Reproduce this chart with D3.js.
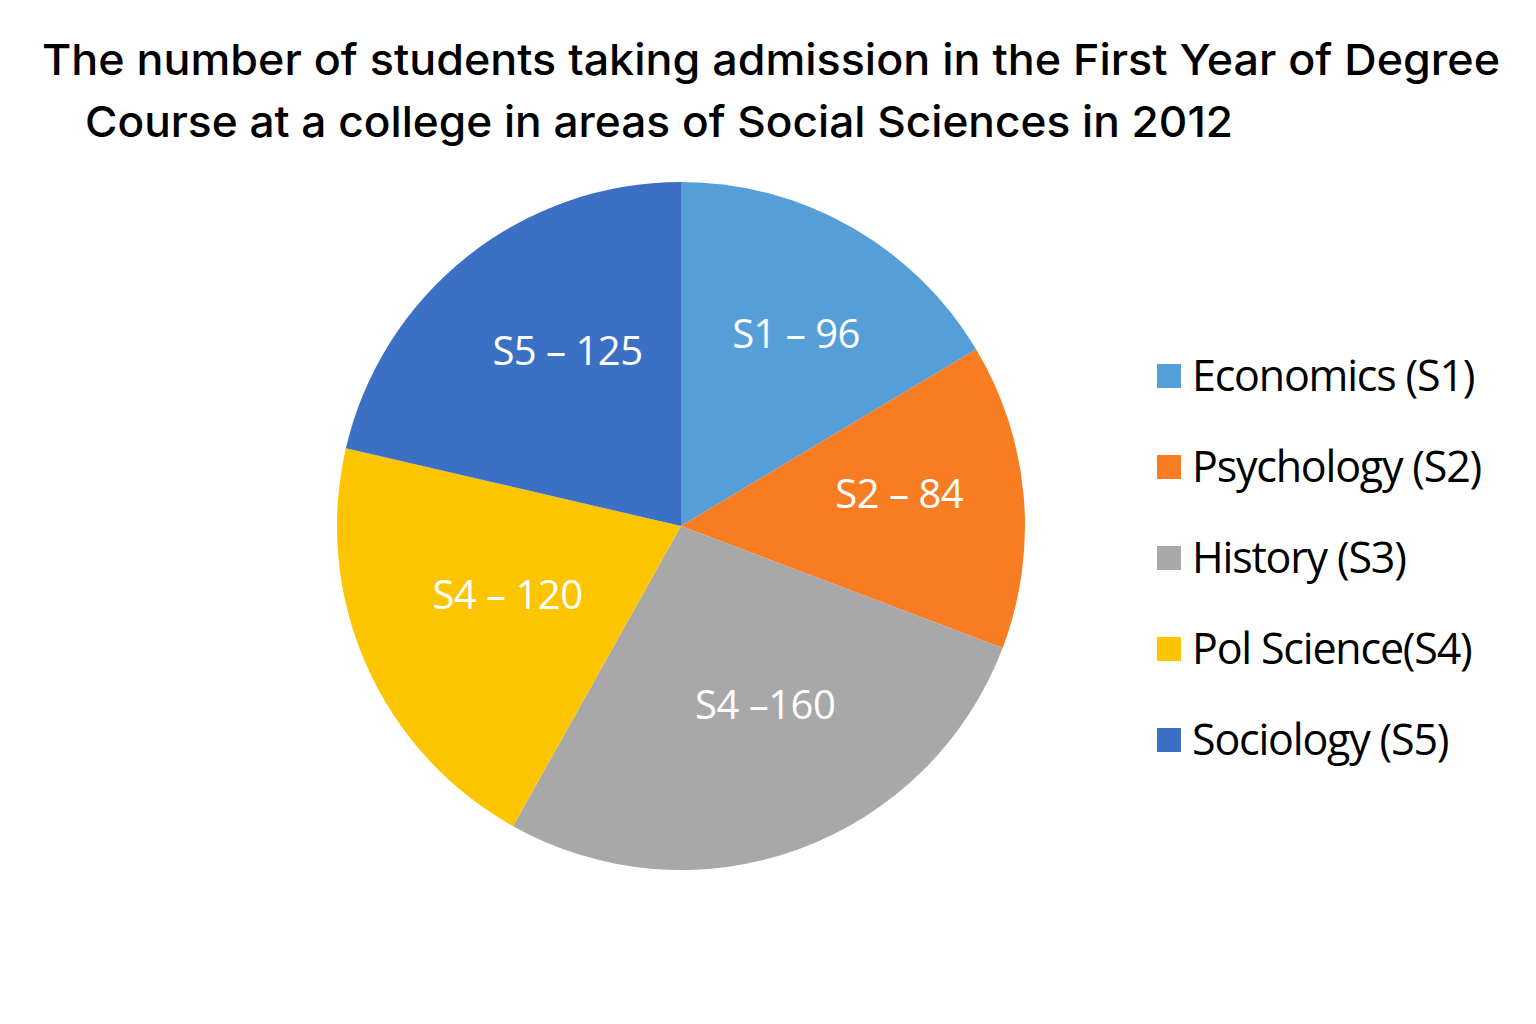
<!DOCTYPE html>
<html>
<head>
<meta charset="utf-8">
<script src="https://cdn.jsdelivr.net/npm/d3@7"></script>
<style>
  body { margin: 0; background: #fff; }
  svg { display: block; }
</style>
</head>
<body>
<div id="chart"></div>
<script>
// --- data ---
const codes = ['S1', 'S2', 'S3', 'S4', 'S5'];
const values = [96, 84, 160, 120, 125];
const sliceLabels = ['S1 \u2013 96', 'S2 \u2013 84', 'S4 \u2013160', 'S4 \u2013 120', 'S5 \u2013 125'];
const legendLabels = ['Economics (S1)', 'Psychology (S2)', 'History (S3)', 'Pol Science(S4)', 'Sociology (S5)'];
const colors = ['#559ed8', '#f77c22', '#a8a8a8', '#fdc400', '#3b70c5'];
const titleLines = [
  'The number of students taking admission in the First Year of Degree',
  'Course at a college in areas of Social Sciences in 2012'
];

const width = 1536, height = 1024;
const cx = 681, cy = 526, radius = 344;

const svg = d3.select('#chart').append('svg')
  .attr('width', width)
  .attr('height', height);

// title
const titleX = [42, 85], titleY = [75, 137], titleW = [1458, 1148];
svg.selectAll('text.title')
  .data(titleLines)
  .join('text')
  .attr('class', 'title')
  .attr('x', (d, i) => titleX[i])
  .attr('y', (d, i) => titleY[i])
  .attr('font-family', 'Inter, Roboto, sans-serif')
  .attr('font-size', 43)
  .attr('font-weight', 500)
  .attr('textLength', (d, i) => titleW[i])
  .attr('lengthAdjust', 'spacingAndGlyphs')
  .text(d => d);

// pie
const pie = d3.pie().sort(null).value(d => d);
const arcs = pie(values);
const arc = d3.arc().innerRadius(0).outerRadius(radius);
const labelArc = d3.arc().innerRadius(205).outerRadius(205);

const g = svg.append('g').attr('transform', `translate(${cx},${cy})`);

g.selectAll('path.slice')
  .data(arcs)
  .join('path')
  .attr('class', 'slice')
  .attr('d', arc)
  .attr('fill', (d, i) => colors[i]);

g.append('g')
  .attr('transform', 'translate(14,-14)')
  .selectAll('text.lbl')
  .data(arcs)
  .join('text')
  .attr('class', 'lbl')
  .attr('transform', d => `translate(${labelArc.centroid(d)})`)
  .attr('text-anchor', 'middle')
  .attr('dy', '0.35em')
  .attr('fill', '#fff')
  .attr('font-family', '"Open Sans", "Noto Sans", sans-serif')
  .attr('font-size', 40)
  .attr('letter-spacing', -0.5)
  .text((d, i) => sliceLabels[i]);

// legend
const legend = svg.append('g').attr('transform', 'translate(1157,376)');
const row = legend.selectAll('g.row')
  .data(codes)
  .join('g')
  .attr('class', 'row')
  .attr('transform', (d, i) => `translate(0,${i * 91})`);

row.append('rect')
  .attr('x', 0).attr('y', -12)
  .attr('width', 24).attr('height', 24)
  .attr('fill', (d, i) => colors[i]);

row.append('text')
  .attr('x', 35)
  .attr('dy', '0.35em')
  .attr('font-family', '"Open Sans", "Noto Sans", sans-serif')
  .attr('font-size', 43)
  .attr('letter-spacing', -1.2)
  .attr('fill', '#000')
  .text((d, i) => legendLabels[i]);
</script>
</body>
</html>
